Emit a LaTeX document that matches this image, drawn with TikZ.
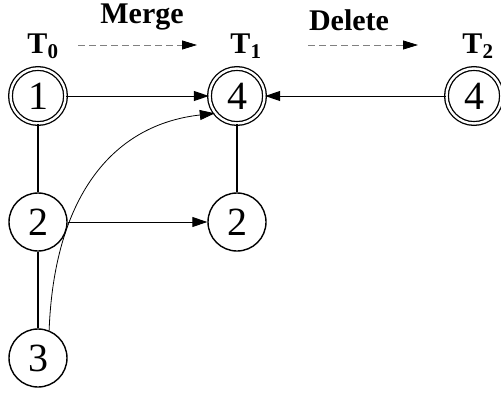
\documentclass[tikz,border=0pt]{standalone}
\usepackage{fontspec}
\setmainfont{Liberation Serif}
\usetikzlibrary{arrows.meta}
\begin{document}
\begin{tikzpicture}[x=1pt,y=-1pt,
  vtx/.style={circle,draw,line width=1.4pt,minimum size=58pt,inner sep=0pt,font=\fontsize{40}{40}\selectfont},
  dvtx/.style={circle,draw,double,double distance=2.4pt,line width=1.3pt,minimum size=55pt,inner sep=0pt,font=\fontsize{40}{40}\selectfont},
  lbl/.style={font=\bfseries\fontsize{30}{30}\selectfont,inner sep=0pt},
  edge/.style={line width=1.5pt},
  arr/.style={line width=1pt,-{Triangle[length=15pt,width=10pt]}},
  darr/.style={line width=0.8pt,dash pattern=on 7pt off 4pt,draw=gray,-{Triangle[length=15pt,width=9pt,color=black,fill=black]}}
]
\useasboundingbox (0,0) rectangle (501,394);
\node[dvtx] (a1) at (38,96) {1};
\node[vtx] (a2) at (38,222) {2};
\node[vtx] (a3) at (38,358) {3};
\node[dvtx] (b4) at (237,96) {4};
\node[vtx] (b2) at (237,222) {2};
\node[dvtx] (c4) at (474,96) {4};
\node[lbl] (t0) at (43,46) {T\textsubscript{0}};
\node[lbl] (t1) at (246,46) {T\textsubscript{1}};
\node[lbl] (t2) at (478,46) {T\textsubscript{2}};
\node[lbl] (m) at (142,17) {Merge};
\node[lbl] (d) at (349,20) {Delete};
\coordinate (ms) at (78,45);
\coordinate (me) at (197,45);
\coordinate (ds) at (308,45);
\coordinate (de) at (418,45);
\draw[edge] (a1) -- (a2);
\draw[edge] (a2) -- (a3);
\draw[edge] (b4) -- (b2);
\draw[arr] (a1) -- (b4);
\draw[arr] (a2) -- (b2);
\draw[arr] (c4) -- (b4);
\draw[line width=0.8pt,-{Triangle[length=15pt,width=10pt]}] (a3.68) .. controls (54,200) and (110,125) .. (b4.218);
\draw[darr] (ms) -- (me);
\draw[darr] (ds) -- (de);
\end{tikzpicture}
\end{document}
